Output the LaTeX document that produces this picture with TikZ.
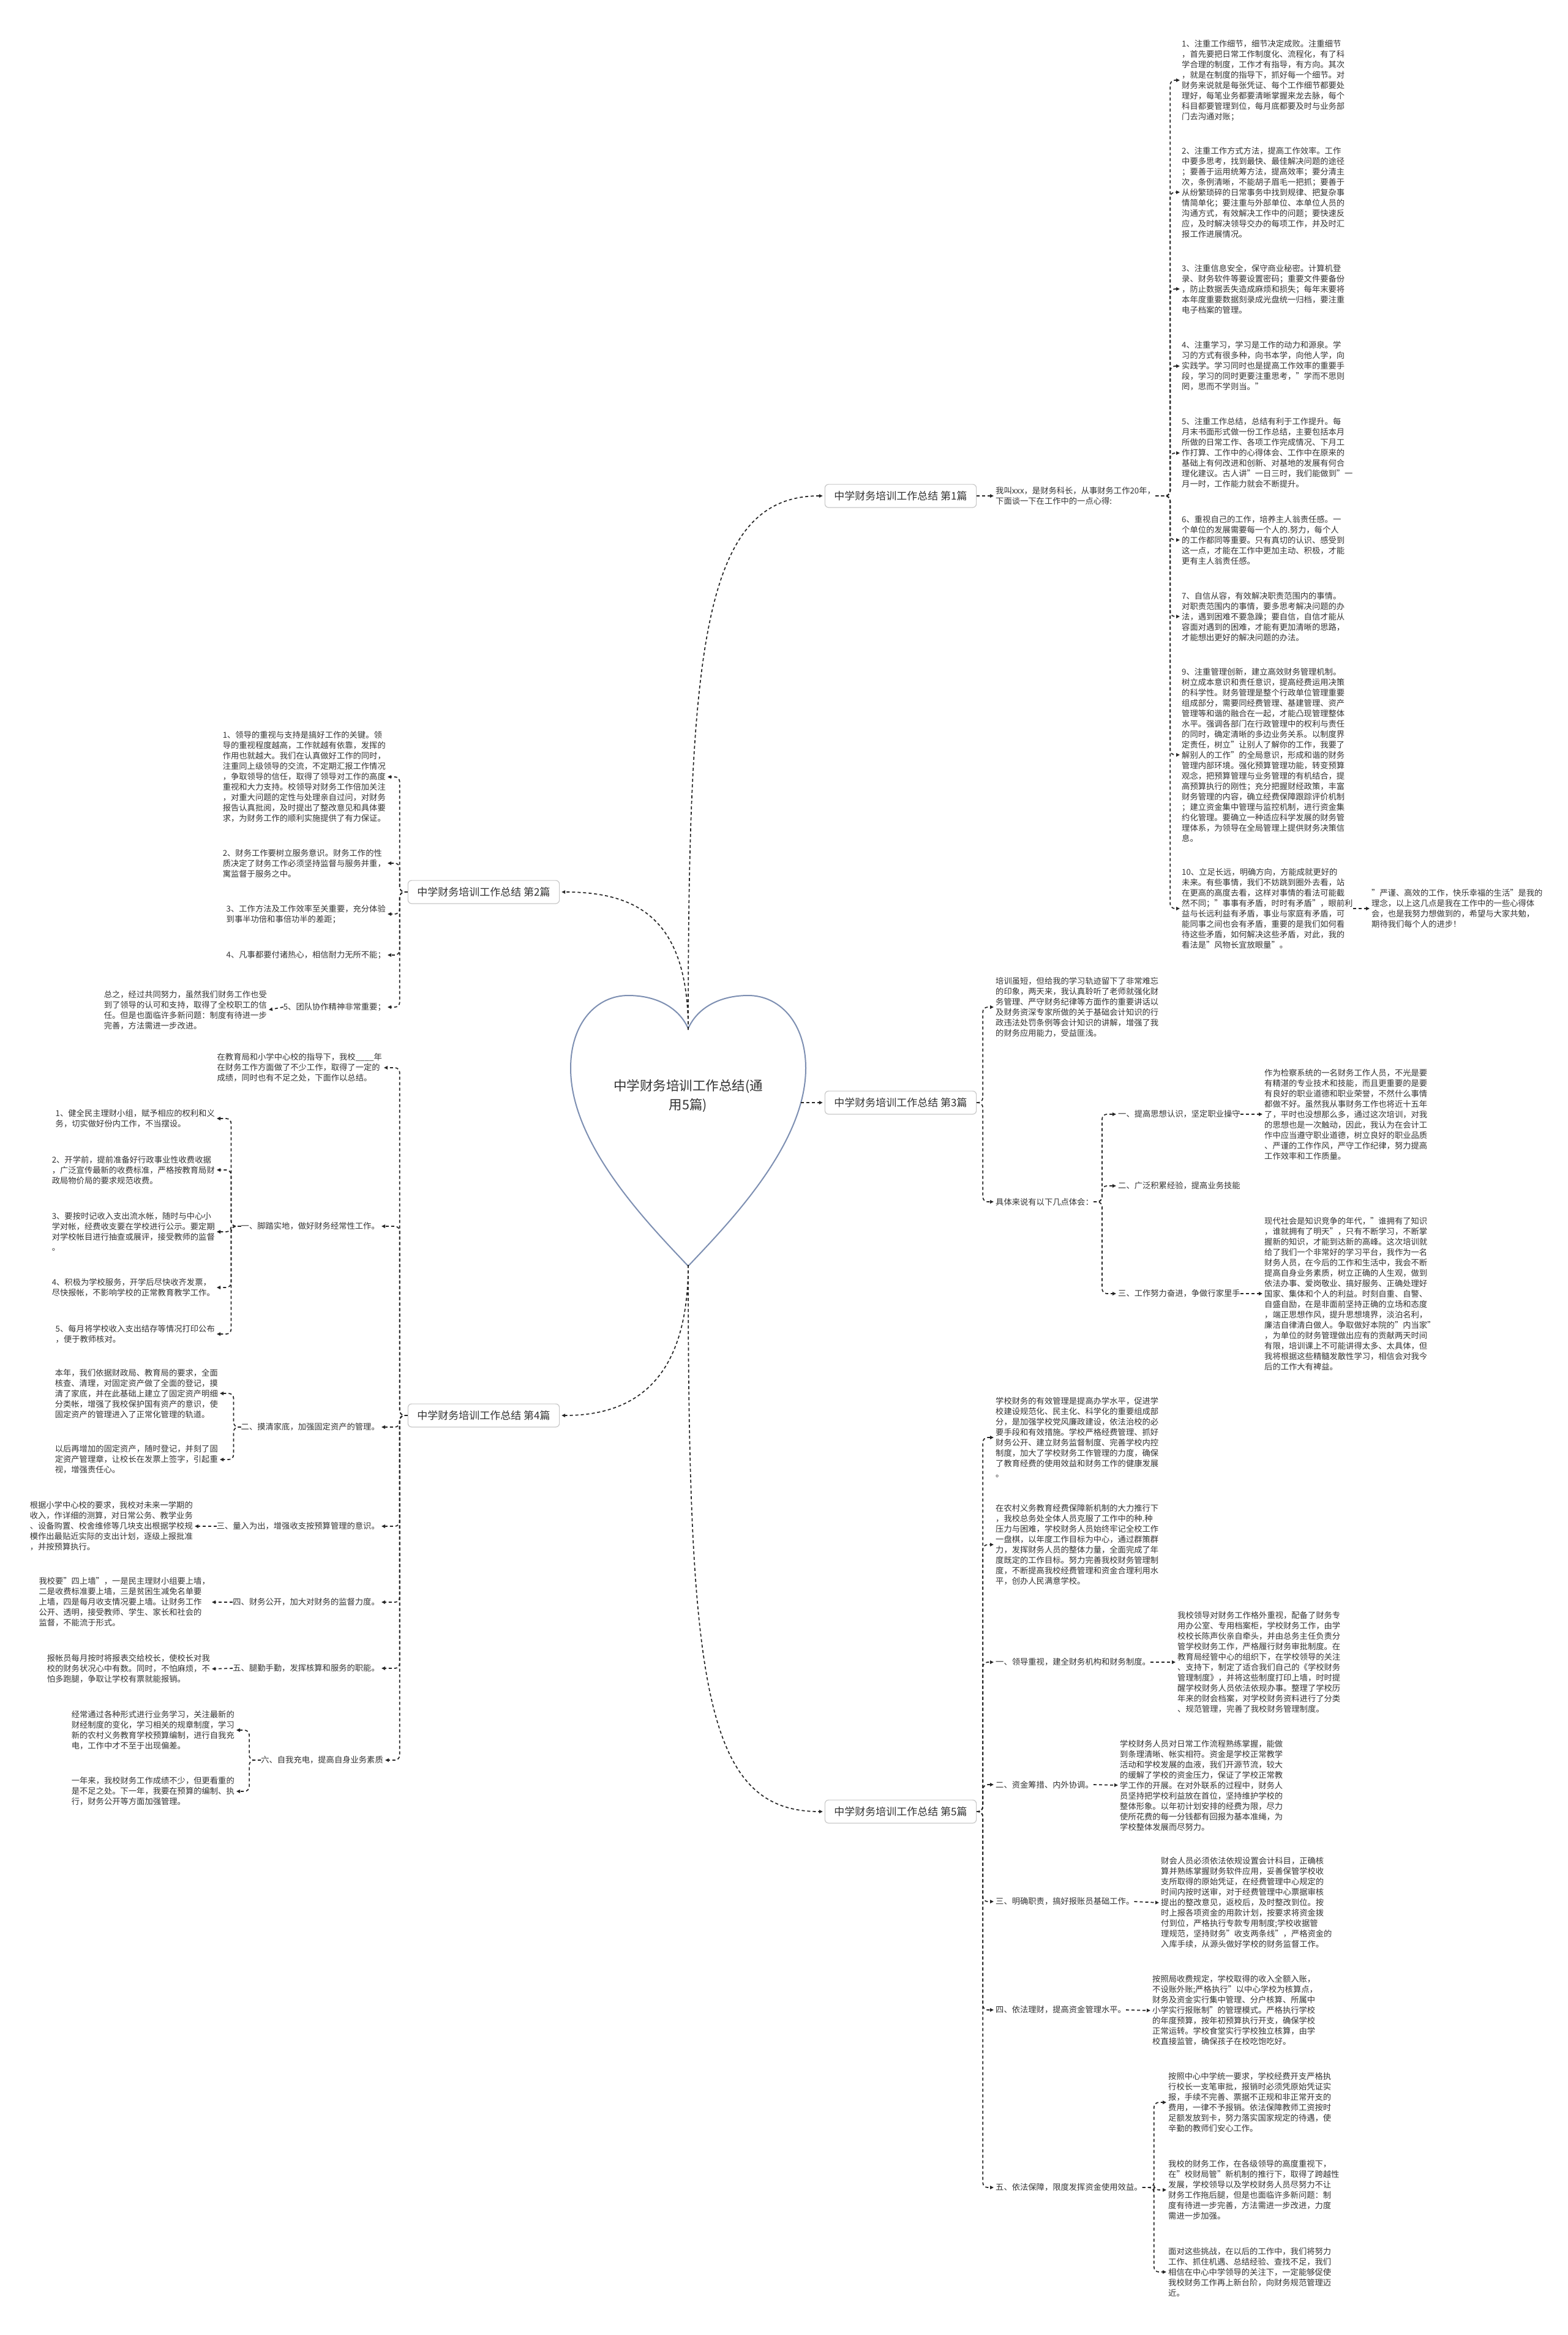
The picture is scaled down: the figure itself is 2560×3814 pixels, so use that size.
\documentclass[tikz,border=0pt]{standalone}
\usepackage{fontspec}
\setmainfont{Noto Sans CJK SC}
\usetikzlibrary{arrows.meta}
\definecolor{txt}{HTML}{333333}
\definecolor{heartc}{HTML}{7D8FB2}
\definecolor{boxc}{HTML}{C8C8C8}
\begin{document}
\begin{tikzpicture}[x=1pt,y=-1pt,
  leaf/.style={inner sep=0pt, align=left, text=txt, font=\fontsize{13.3}{17}\selectfont},
  leafR/.style={leaf, anchor=west},
  leafL/.style={leaf, anchor=east},
  branch/.style={draw=boxc, line width=1.2pt, rounded corners=6pt, fill=white, inner xsep=15pt, inner ysep=11pt, text=txt, font=\fontsize{17}{20}\selectfont},
  conn/.style={draw=black!85, line width=1.7pt, dash pattern=on 5pt off 4pt, shorten >=3pt, -{Triangle[length=6pt,width=5.5pt]}},
  elbow/.style={conn, rounded corners=8pt}
]
\fill[white] (0,0) rectangle (2560,3814);
\useasboundingbox (0,0) rectangle (2560,3814);

% heart
\draw[heartc, line width=2pt, fill=white] (1124,2068) .. controls (1060,2000) and (932,1870) .. (932,1745)
 .. controls (932,1670) and (975,1626) .. (1026,1626)
 .. controls (1075,1626) and (1110,1648) .. (1124,1680)
 .. controls (1138,1648) and (1173,1626) .. (1222,1626)
 .. controls (1273,1626) and (1316,1670) .. (1316,1745)
 .. controls (1316,1870) and (1188,2000) .. (1124,2068) -- cycle;
\node[align=center, text=txt, font=\fontsize{21.5}{31}\selectfont] (root) at (1124,1790) {中学财务培训工作总结(通\\用5篇)};
\coordinate (htop) at (1124,1682);
\coordinate (hbot) at (1124,2066);
\coordinate (hright) at (1308,1801);

% branch labels
\node[branch] (l1) at (1471,810) {中学财务培训工作总结 第1篇};
\node[branch] (l2) at (790,1457) {中学财务培训工作总结 第2篇};
\node[branch] (l3) at (1471,1801) {中学财务培训工作总结 第3篇};
\node[branch] (l4) at (790,2312) {中学财务培训工作总结 第4篇};
\node[branch] (l5) at (1471,2959) {中学财务培训工作总结 第5篇};

\draw[conn] (htop) .. controls (1124,1050) and (1150,810) .. (l1.west);
\draw[conn] (htop) .. controls (1124,1500) and (1040,1457) .. (l2.east);
\draw[conn] (hright) -- (l3.west);
\draw[conn] (hbot) .. controls (1124,2250) and (1040,2312) .. (l4.east);
\draw[conn] (hbot) .. controls (1124,2750) and (1150,2959) .. (l5.west);

% ===== 第1篇 =====
\node[leafR] (a0) at (1626,810) {我叫xxx，是财务科长，从事财务工作20年，\\下面谈一下在工作中的一点心得:};
\node[leafR] (a1) at (1930,131) {1、注重工作细节，细节决定成败。注重细节\\，首先要把日常工作制度化、流程化，有了科\\学合理的制度，工作才有指导，有方向。其次\\，就是在制度的指导下，抓好每一个细节。对\\财务来说就是每张凭证、每个工作细节都要处\\理好，每笔业务都要清晰掌握来龙去脉，每个\\科目都要管理到位，每月底都要及时与业务部\\门去沟通对账；};
\node[leafR] (a2) at (1930,314) {2、注重工作方式方法，提高工作效率。工作\\中要多思考，找到最快、最佳解决问题的途径\\；要善于运用统筹方法，提高效率；要分清主\\次，条例清晰，不能胡子眉毛一把抓；要善于\\从纷繁琐碎的日常事务中找到规律、把复杂事\\情简单化；要注重与外部单位、本单位人员的\\沟通方式，有效解决工作中的问题；要快速反\\应，及时解决领导交办的每项工作，并及时汇\\报工作进展情况。};
\node[leafR] (a3) at (1930,472) {3、注重信息安全，保守商业秘密。计算机登\\录、财务软件等要设置密码；重要文件要备份\\，防止数据丢失造成麻烦和损失；每年末要将\\本年度重要数据刻录成光盘统一归档，要注重\\电子档案的管理。};
\node[leafR] (a4) at (1930,598) {4、注重学习，学习是工作的动力和源泉。学\\习的方式有很多种，向书本学，向他人学，向\\实践学。学习同时也是提高工作效率的重要手\\段，学习的同时更要注重思考，"学而不思则\\罔，思而不学则当。"};
\node[leafR] (a5) at (1930,740) {5、注重工作总结，总结有利于工作提升。每\\月末书面形式做一份工作总结，主要包括本月\\所做的日常工作、各项工作完成情况、下月工\\作打算、工作中的心得体会、工作中在原来的\\基础上有何改进和创新、对基地的发展有何合\\理化建议。古人讲"一日三时，我们能做到"一\\月一时，工作能力就会不断提升。};
\node[leafR] (a6) at (1930,882) {6、重视自己的工作，培养主人翁责任感。一\\个单位的发展需要每一个人的.努力，每个人\\的工作都同等重要。只有真切的认识、感受到\\这一点，才能在工作中更加主动、积极，才能\\更有主人翁责任感。};
\node[leafR] (a7) at (1930,1007) {7、自信从容，有效解决职责范围内的事情。\\对职责范围内的事情，要多思考解决问题的办\\法，遇到困难不要急躁；要自信，自信才能从\\容面对遇到的困难，才能有更加清晰的思路，\\才能想出更好的解决问题的办法。};
\node[leafR] (a9) at (1930,1233) {9、注重管理创新，建立高效财务管理机制。\\树立成本意识和责任意识，提高经费运用决策\\的科学性。财务管理是整个行政单位管理重要\\组成部分，需要同经费管理、基建管理、资产\\管理等和谐的融合在一起，才能凸现管理整体\\水平。强调各部门在行政管理中的权利与责任\\的同时，确定清晰的多边业务关系。以制度界\\定责任，树立"让别人了解你的工作，我要了\\解别人的工作"的全局意识，形成和谐的财务\\管理内部环境。强化预算管理功能，转变预算\\观念，把预算管理与业务管理的有机结合，提\\高预算执行的刚性；充分把握财经政策，丰富\\财务管理的内容，确立经费保障跟踪评价机制\\；建立资金集中管理与监控机制，进行资金集\\约化管理。要确立一种适应科学发展的财务管\\理体系，为领导在全局管理上提供财务决策信\\息。};
\node[leafR] (a10) at (1930,1484) {10、立足长远，明确方向，方能成就更好的\\未来。有些事情，我们不妨跳到圈外去看，站\\在更高的高度去看，这样对事情的看法可能截\\然不同；"事事有矛盾，时时有矛盾"，眼前利\\益与长远利益有矛盾，事业与家庭有矛盾，可\\能同事之间也会有矛盾，重要的是我们如何看\\待这些矛盾，如何解决这些矛盾，对此，我的\\看法是"风物长宜放眼量"。};
\node[leafR] (a11) at (2240,1484) {"严谨、高效的工作，快乐幸福的生活"是我的\\理念，以上这几点是我在工作中的一些心得体\\会，也是我努力想做到的，希望与大家共勉，\\期待我们每个人的进步！};

\draw[conn] (l1.east) -- (a0.west);
\foreach \n in {a1,a2,a3,a4,a5,a6,a7,a9,a10}
  \draw[elbow] (a0.east) -- ++(24,0) |- (\n.west);
\draw[conn] (a10.east) -- (a11.west);

% ===== 第2篇 =====
\node[leafL] (b1) at (630,1269) {1、领导的重视与支持是搞好工作的关键。领\\导的重视程度越高，工作就越有依靠，发挥的\\作用也就越大。我们在认真做好工作的同时，\\注重同上级领导的交流，不定期汇报工作情况\\，争取领导的信任，取得了领导对工作的高度\\重视和大力支持。校领导对财务工作倍加关注\\，对重大问题的定性与处理亲自过问，对财务\\报告认真批阅，及时提出了整改意见和具体要\\求，为财务工作的顺利实施提供了有力保证。};
\node[leafL] (b2) at (630,1410) {2、财务工作要树立服务意识。财务工作的性\\质决定了财务工作必须坚持监督与服务并重，\\寓监督于服务之中。};
\node[leafL] (b3) at (630,1493) {3、工作方法及工作效率至关重要，充分体验\\到事半功倍和事倍功半的差距；};
\node[leafL] (b4) at (630,1560) {4、凡事都要付诸热心，相信耐力无所不能；};
\node[leafL] (b5) at (630,1645) {5、团队协作精神非常重要；};
\node[leafL] (b6) at (436,1650) {总之，经过共同努力，虽然我们财务工作也受\\到了领导的认可和支持，取得了全校职工的信\\任。但是也面临许多新问题：制度有待进一步\\完善，方法需进一步改进。};
\foreach \n in {b1,b2,b3,b4,b5}
  \draw[elbow] (l2.west) -- ++(-13,0) |- (\n.east);
\draw[conn] (b5.west) -- (b6.east);

% ===== 第3篇 =====
\node[leafR] (c1) at (1626,1645) {培训虽短，但给我的学习轨迹留下了非常难忘\\的印象，两天来，我认真聆听了老师就强化财\\务管理、严守财务纪律等方面作的重要讲话以\\及财务资深专家所做的关于基础会计知识的行\\政违法处罚条例等会计知识的讲解，增强了我\\的财务应用能力，受益匪浅。};
\node[leafR] (c2) at (1626,1963) {具体来说有以下几点体会：};
\node[leafR] (c21) at (1826,1820) {一、提高思想认识，坚定职业操守};
\node[leafR] (c22) at (1826,1937) {二、广泛积累经验，提高业务技能};
\node[leafR] (c23) at (1826,2113) {三、工作努力奋进，争做行家里手};
\node[leafR] (c21d) at (2065,1820) {作为检察系统的一名财务工作人员，不光是要\\有精湛的专业技术和技能，而且更重要的是要\\有良好的职业道德和职业荣誉，不然什么事情\\都做不好。虽然我从事财务工作也将近十五年\\了，平时也没想那么多，通过这次培训，对我\\的思想也是一次触动，因此，我认为在会计工\\作中应当遵守职业道德，树立良好的职业品质\\、严谨的工作作风，严守工作纪律，努力提高\\工作效率和工作质量。};
\node[leafR] (c23d) at (2065,2113) {现代社会是知识竞争的年代，"谁拥有了知识\\，谁就拥有了明天"，只有不断学习，不断掌\\握新的知识，才能到达新的高峰。这次培训就\\给了我们一个非常好的学习平台，我作为一名\\财务人员，在今后的工作和生活中，我会不断\\提高自身业务素质，树立正确的人生观，做到\\依法办事、爱岗敬业、搞好服务、正确处理好\\国家、集体和个人的利益。时刻自重、自警、\\自盛自励，在是非面前坚持正确的立场和态度\\，端正思想作风，提升思想境界，淡泊名利，\\廉洁自律清白做人。争取做好本院的"内当家"\\，为单位的财务管理做出应有的贡献两天时间\\有限，培训课上不可能讲得太多、太具体，但\\我将根据这些精髓发散性学习，相信会对我今\\后的工作大有裨益。};
\foreach \n in {c1,c2}
  \draw[elbow] (l3.east) -- ++(10,0) |- (\n.west);
\foreach \n in {c21,c22,c23}
  \draw[elbow] (c2.east) -- ++(14,0) |- (\n.west);
\draw[conn] (c21.east) -- (c21d.west);
\draw[conn] (c23.east) -- (c23d.west);

% ===== 第4篇 =====
\node[leafL] (d0) at (624,1744) {在教育局和小学中心校的指导下，我校\_\_\_\_年\\在财务工作方面做了不少工作，取得了一定的\\成绩，同时也有不足之处，下面作以总结。};
\node[leafL] (d1) at (620,2003) {一、脚踏实地，做好财务经常性工作。};
\node[leafL] (d11) at (351,1827) {1、健全民主理财小组，赋予相应的权利和义\\务，切实做好份内工作，不当摆设。};
\node[leafL] (d12) at (351,1911) {2、开学前，提前准备好行政事业性收费收据\\，广泛宣传最新的收费标准，严格按教育局财\\政局物价局的要求规范收费。};
\node[leafL] (d13) at (351,2012) {3、要按时记收入支出流水帐，随时与中心小\\学对帐，经费收支要在学校进行公示。要定期\\对学校帐目进行抽查或展评，接受教师的监督\\。};
\node[leafL] (d14) at (351,2103) {4、积极为学校服务，开学后尽快收齐发票，\\尽快报帐，不影响学校的正常教育教学工作。};
\node[leafL] (d15) at (351,2179) {5、每月将学校收入支出结存等情况打印公布\\，便于教师核对。};
\node[leafL] (d2) at (620,2331) {二、摸清家底，加强固定资产的管理。};
\node[leafL] (d21) at (356,2276) {本年，我们依据财政局、教育局的要求，全面\\核查、清理，对固定资产做了全面的登记，摸\\清了家底，并在此基础上建立了固定资产明细\\分类帐，增强了我校保护国有资产的意识，使\\固定资产的管理进入了正常化管理的轨道。};
\node[leafL] (d22) at (356,2384) {以后再增加的固定资产，随时登记，并刻了固\\定资产管理章，让校长在发票上签字，引起重\\视，增强责任心。};
\node[leafL] (d3) at (620,2493) {三、量入为出，增强收支按预算管理的意识。};
\node[leafL] (d31) at (315,2493) {根据小学中心校的要求，我校对未来一学期的\\收入，作详细的测算，对日常公务、教学业务\\、设备购置、校舍维修等几块支出根据学校规\\模作出最贴近实际的支出计划，逐级上报批准\\，并按预算执行。};
\node[leafL] (d4) at (620,2617) {四、财务公开，加大对财务的监督力度。};
\node[leafL] (d41) at (343,2617) {我校要"四上墙"，一是民主理财小组要上墙，\\二是收费标准要上墙，三是贫困生减免名单要\\上墙，四是每月收支情况要上墙。让财务工作\\公开、透明，接受教师、学生、家长和社会的\\监督，不能流于形式。};
\node[leafL] (d5) at (620,2725) {五、腿勤手勤，发挥核算和服务的职能。};
\node[leafL] (d51) at (343,2726) {报帐员每月按时将报表交给校长，使校长对我\\校的财务状况心中有数。同时，不怕麻烦，不\\怕多跑腿，争取让学校有票就能报销。};
\node[leafL] (d6) at (626,2875) {六、自我充电，提高自身业务素质};
\node[leafL] (d61) at (383,2826) {经常通过各种形式进行业务学习，关注最新的\\财经制度的变化，学习相关的规章制度，学习\\新的农村义务教育学校预算编制，进行自我充\\电，工作中才不至于出现偏差。};
\node[leafL] (d62) at (383,2926) {一年来，我校财务工作成绩不少，但更看重的\\是不足之处。下一年，我要在预算的编制、执\\行，财务公开等方面加强管理。};
\foreach \n in {d0,d1,d2,d3,d4,d5,d6}
  \draw[elbow] (l4.west) -- ++(-13,0) |- (\n.east);
\foreach \n in {d11,d12,d13,d14,d15}
  \draw[elbow] (d1.west) -- ++(-16,0) |- (\n.east);
\foreach \n in {d21,d22}
  \draw[elbow] (d2.west) -- ++(-12,0) |- (\n.east);
\draw[conn] (d3.west) -- (d31.east);
\draw[conn] (d4.west) -- (d41.east);
\draw[conn] (d5.west) -- (d51.east);
\foreach \n in {d61,d62}
  \draw[elbow] (d6.west) -- ++(-19,0) |- (\n.east);

% ===== 第5篇 =====
\node[leafR] (e1) at (1626,2348) {学校财务的有效管理是提高办学水平，促进学\\校建设规范化、民主化、科学化的重要组成部\\分，是加强学校党风廉政建设，依法治校的必\\要手段和有效措施。学校严格经费管理、抓好\\财务公开、建立财务监督制度、完善学校内控\\制度，加大了学校财务工作管理的力度，确保\\了教育经费的使用效益和财务工作的健康发展\\。};
\node[leafR] (e2) at (1626,2523) {在农村义务教育经费保障新机制的大力推行下\\，我校总务处全体人员克服了工作中的种.种\\压力与困难，学校财务人员始终牢记全校工作\\一盘棋，以年度工作目标为中心，通过群策群\\力，发挥财务人员的整体力量，全面完成了年\\度既定的工作目标。努力完善我校财务管理制\\度，不断提高我校经费管理和资金合理利用水\\平，创办人民满意学校。};
\node[leafR] (e3) at (1626,2715) {一、领导重视，建全财务机构和财务制度。};
\node[leafR] (e3d) at (1923,2715) {我校领导对财务工作格外重视，配备了财务专\\用办公室、专用档案柜，学校财务工作，由学\\校校长陈声伙亲自牵头，并由总务主任负责分\\管学校财务工作，严格履行财务审批制度。在\\教育局经管中心的组织下，在学校领导的关注\\、支持下，制定了适合我们自己的《学校财务\\管理制度》，并将这些制度打印上墙，时时提\\醒学校财务人员依法依规办事。整理了学校历\\年来的财会档案，对学校财务资料进行了分类\\、规范管理，完善了我校财务管理制度。};
\node[leafR] (e4) at (1626,2915) {二、资金筹措、内外协调。};
\node[leafR] (e4d) at (1829,2916) {学校财务人员对日常工作流程熟练掌握，能做\\到条理清晰、帐实相符。资金是学校正常教学\\活动和学校发展的血液，我们开源节流，较大\\的缓解了学校的资金压力，保证了学校正常教\\学工作的开展。在对外联系的过程中，财务人\\员坚持把学校利益放在首位，坚持维护学校的\\整体形象。以年初计划安排的经费为限，尽力\\使所花费的每一分钱都有回报为基本准绳，为\\学校整体发展而尽努力。};
\node[leafR] (e5) at (1626,3106) {三、明确职责，搞好报账员基础工作。};
\node[leafR] (e5d) at (1896,3108) {财会人员必须依法依规设置会计科目，正确核\\算并熟练掌握财务软件应用，妥善保管学校收\\支所取得的原始凭证，在经费管理中心规定的\\时间内按时送审，对于经费管理中心票据审核\\提出的整改意见，返校后，及时整改到位。按\\时上报各项资金的用款计划，按要求将资金拨\\付到位，严格执行专款专用制度;学校收据管\\理规范，坚持财务"收支两条线"，严格资金的\\入库手续，从源头做好学校的财务监督工作。};
\node[leafR] (e6) at (1626,3283) {四、依法理财，提高资金管理水平。};
\node[leafR] (e6d) at (1882,3284) {按照局收费规定，学校取得的收入全额入账，\\不设账外账;严格执行"以中心学校为核算点，\\财务及资金实行集中管理、分户核算、所属中\\小学实行报账制"的管理模式。严格执行学校\\的年度预算，按年初预算执行开支，确保学校\\正常运转。学校食堂实行学校独立核算，由学\\校直接监管，确保孩子在校吃饱吃好。};
\node[leafR] (e7) at (1626,3573) {五、依法保障，限度发挥资金使用效益。};
\node[leafR] (e71) at (1908,3434) {按照中心中学统一要求，学校经费开支严格执\\行校长一支笔审批，报销时必须凭原始凭证实\\报，手续不完善、票据不正规和非正常开支的\\费用，一律不予报销。依法保障教师工资按时\\足额发放到卡，努力落实国家规定的待遇，使\\辛勤的教师们安心工作。};
\node[leafR] (e72) at (1908,3577) {我校的财务工作，在各级领导的高度重视下，\\在"校财局管"新机制的推行下，取得了跨越性\\发展，学校领导以及学校财务人员尽努力不让\\财务工作拖后腿，但是也面临许多新问题：制\\度有待进一步完善，方法需进一步改进，力度\\需进一步加强。};
\node[leafR] (e73) at (1908,3711) {面对这些挑战，在以后的工作中，我们将努力\\工作、抓住机遇、总结经验、查找不足，我们\\相信在中心中学领导的关注下，一定能够促使\\我校财务工作再上新台阶，向财务规范管理迈\\近。};
\foreach \n in {e1,e2,e3,e4,e5,e6,e7}
  \draw[elbow] (l5.east) -- ++(10,0) |- (\n.west);
\draw[conn] (e3.east) -- (e3d.west);
\draw[conn] (e4.east) -- (e4d.west);
\draw[conn] (e5.east) -- (e5d.west);
\draw[conn] (e6.east) -- (e6d.west);
\foreach \n in {e71,e72,e73}
  \draw[elbow] (e7.east) -- ++(19,0) |- (\n.west);
\end{tikzpicture}
\end{document}
